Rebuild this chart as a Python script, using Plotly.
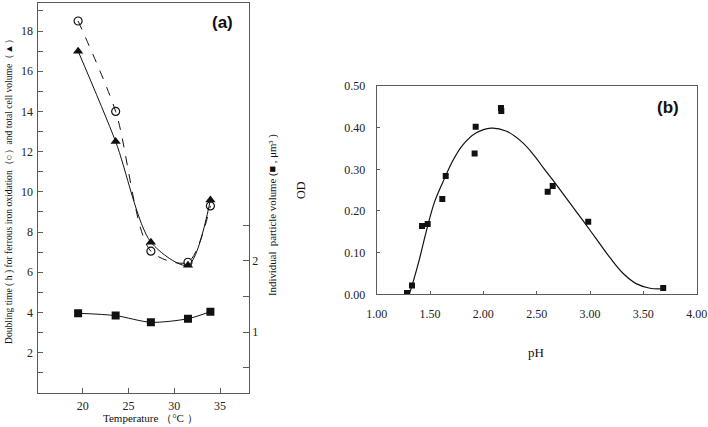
import plotly.graph_objects as go

# ---- Panel (a) data ----
temp = [19.5, 23.6, 27.45, 31.5, 33.95]
doubling_time = [18.5, 14.0, 7.05, 6.5, 9.3]      # open circles
total_cell_volume = [17.0, 12.5, 7.5, 6.35, 9.6]  # triangles
particle_volume = [1.266, 1.233, 1.14, 1.19, 1.289]  # squares (right axis)

a_left_ticks = list(range(1, 20))
a_left_text = [str(v) if v % 2 == 0 else "" for v in a_left_ticks]
a_right_ticks = [0.5, 1, 1.5, 2, 2.5]
a_right_text = ["", "1", "", "2", ""]
a_x_ticks = [20, 25, 30, 35]

# ---- Panel (b) data ----
ph = [1.284, 1.331, 1.425, 1.478, 1.615, 1.647, 1.918, 1.928, 2.165, 2.168,
      2.603, 2.65, 2.983, 3.686]
od = [0.003, 0.021, 0.164, 0.169, 0.229, 0.284, 0.338, 0.402, 0.447, 0.44,
      0.246, 0.26, 0.174, 0.015]
ph_fit = [1.306, 1.353, 1.40, 1.462, 1.54, 1.618, 1.712, 1.806, 1.93, 2.071,
          2.212, 2.368, 2.486, 2.561, 2.687, 2.812, 2.936, 3.062, 3.187,
          3.311, 3.437, 3.562, 3.64, 3.686]
od_fit = [0.0, 0.040, 0.084, 0.148, 0.22, 0.268, 0.32, 0.358, 0.387, 0.399,
          0.392, 0.364, 0.330, 0.304, 0.262, 0.219, 0.176, 0.132, 0.088,
          0.050, 0.025, 0.0145, 0.013, 0.014]
b_x_ticks = [1.0, 1.5, 2.0, 2.5, 3.0, 3.5, 4.0]
b_y_ticks = [0.0, 0.1, 0.2, 0.3, 0.4, 0.5]

SERIF = "Liberation Serif"
INK = "#111111"
FRAME = "#5a5a5a"

fig = go.Figure()

fig.add_trace(go.Scatter(
    x=temp, y=doubling_time, mode="lines+markers", xaxis="x", yaxis="y",
    line=dict(color=INK, width=1, dash="dash", shape="spline", smoothing=0.8),
    marker=dict(symbol="circle-open", size=8, color=INK, line=dict(width=1.2, color=INK)),
    showlegend=False))
fig.add_trace(go.Scatter(
    x=temp, y=total_cell_volume, mode="lines+markers", xaxis="x", yaxis="y",
    line=dict(color=INK, width=1, shape="spline", smoothing=0.8),
    marker=dict(symbol="triangle-up", size=9, color=INK),
    showlegend=False))
fig.add_trace(go.Scatter(
    x=temp, y=particle_volume, mode="lines+markers", xaxis="x", yaxis="y2",
    line=dict(color=INK, width=1, shape="spline", smoothing=0.8),
    marker=dict(symbol="square", size=8, color=INK),
    showlegend=False))

fig.add_trace(go.Scatter(
    x=ph_fit, y=od_fit, mode="lines", xaxis="x3", yaxis="y3",
    line=dict(color=INK, width=1.2, shape="spline", smoothing=1.0),
    showlegend=False))
fig.add_trace(go.Scatter(
    x=ph, y=od, mode="markers", xaxis="x3", yaxis="y3",
    marker=dict(symbol="square", size=6, color=INK),
    showlegend=False))

W, H = 708, 427
ax_font = dict(family=SERIF, size=12, color="#222")
common = dict(showgrid=False, zeroline=False, tickfont=ax_font,
              automargin=False, tickcolor=FRAME)

fig.update_layout(
    width=W, height=H,
    margin=dict(l=0, r=0, t=0, b=0, autoexpand=False),
    font=dict(family=SERIF, color="#222"),
    paper_bgcolor="white", plot_bgcolor="white",
    xaxis=dict(domain=[38.3 / W, 249.3 / W], range=[15.15, 38.2],
               tickvals=a_x_ticks, ticks="inside", ticklen=5,
               showline=True, linecolor=FRAME, linewidth=1, mirror=True,
               ticklabelstandoff=2, anchor="y", **common),
    yaxis=dict(domain=[1 - 392.9 / H, 1 - 3.3 / H], range=[0, 19.38],
               tickvals=a_left_ticks, ticktext=a_left_text,
               ticks="inside", ticklen=5,
               showline=True, linecolor=FRAME, linewidth=1, mirror=True,
               ticklabelstandoff=2, anchor="x", **common),
    yaxis2=dict(overlaying="y", side="right", anchor="x", range=[0.15, 5.61],
                tickvals=a_right_ticks, ticktext=a_right_text,
                ticks="inside", ticklen=6,
                showline=False, ticklabelstandoff=2, **common),
    xaxis3=dict(domain=[376.7 / W, 696.7 / W], range=[1, 4],
                tickvals=b_x_ticks, tickformat=".2f",
                ticks="inside", ticklen=3,
                showline=True, linecolor=FRAME, linewidth=1, mirror=True,
                ticklabelstandoff=8, anchor="y3", **common),
    yaxis3=dict(domain=[1 - 294.3 / H, 1 - 86 / H], range=[0, 0.5],
                tickvals=b_y_ticks, tickformat=".2f",
                ticks="inside", ticklen=3,
                showline=True, linecolor=FRAME, linewidth=1, mirror=True,
                ticklabelstandoff=8, anchor="x3", **common),
)

def ann(text, x, y, size, angle=0, family=SERIF, bold=False):
    fig.add_annotation(
        text=f"<b>{text}</b>" if bold else text,
        x=x / W, y=1 - y / H, xref="paper", yref="paper",
        showarrow=False, textangle=angle, xanchor="center", yanchor="middle",
        font=dict(family=family, size=size, color="#111"))

ann("Doubling time ( h ) for ferrous iron oxidation（○）and total cell volume（▲）",
    9, 189, 9.6, angle=-90)
ann("Individual  particle volume (■ , μm³ )", 272, 215, 10.8, angle=-90)
ann("Temperature （°C ）", 150, 418, 11)
ann("OD", 301, 190, 12, angle=-90)
ann("pH", 536, 352, 13)
ann("(a)", 222, 22, 17, family="Liberation Sans", bold=True)
ann("(b)", 668, 107, 17, family="Liberation Sans", bold=True)

fig.write_html(
    "out.html",
    config={"displayModeBar": False, "staticPlot": True},
    post_script="document.body.style.margin='0';document.body.style.padding='0';"
                "document.documentElement.style.overflow='hidden';",
)
